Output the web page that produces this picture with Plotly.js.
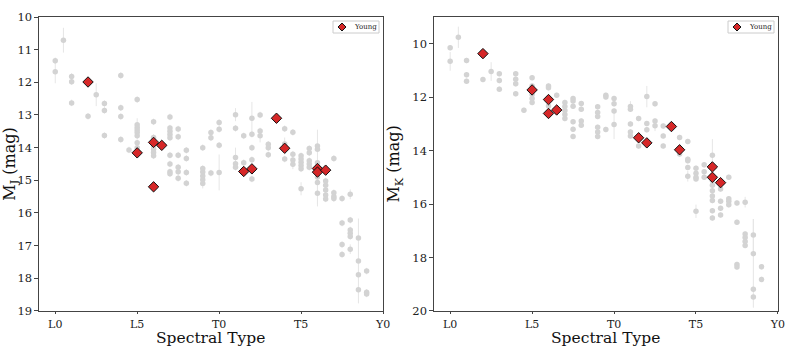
<!DOCTYPE html>
<html>
<head>
<meta charset="utf-8">
<script src="https://cdn.plot.ly/plotly-3.0.1.min.js"></script>
<style>
  html, body { margin: 0; padding: 0; background: #fff; }
  #chart { width: 793px; height: 347px; }
</style>
</head>
<body>
<div id="chart"></div>
<script>
// Spectral type as a number: L0 = 0, L5 = 5, T0 = 10, T5 = 15, Y0 = 20
const tickVals = [0, 5, 10, 15, 20];
const tickText = ['L0', 'L5', 'T0', 'T5', 'Y0'];

// Field objects, M_J
const spJ = [0, 0, 0.5, 1, 1, 1, 2, 2.5, 3, 3, 3, 4, 4, 4, 4, 4.5,
  5, 5, 5, 5, 5, 5, 5, 5, 6, 6, 6, 6, 6, 6, 6,
  7, 7, 7, 7, 7, 7, 7, 7, 7, 7.5, 7.5, 7.5, 7.5, 7.5, 7.5,
  8, 8, 8, 8, 9, 9, 9, 9, 9, 9, 9.5, 9.5, 9.5, 10, 10, 10, 10,
  11, 11, 11, 11, 11, 11.5, 11.5, 12, 12, 12, 12, 12, 12.5, 12.5, 12.5,
  13, 13, 13, 14, 14, 14, 14.5, 14.5, 14.5, 14.5,
  15, 15, 15, 15, 15, 15, 15.5, 15.5, 15.5, 15.5, 15.5,
  16, 16, 16, 16, 16, 16, 16, 16, 16.5, 16.5, 16.5, 16.5, 16.5,
  17, 17, 17, 17, 17.5, 17.5, 17.5, 17.5, 18, 18, 18, 18, 18, 18,
  18.5, 18.5, 18.5, 18.5, 19, 19, 19];
const mJ = [11.34, 11.68, 10.71, 11.82, 11.98, 12.63, 13.04, 12.38, 12.65, 12.86, 13.63, 11.79, 12.78, 13.05, 13.75, 14.07,
  12.53, 13.30, 13.38, 13.46, 13.54, 13.64, 13.85, 14.00, 13.21, 13.69, 13.85, 13.95, 14.05, 14.15, 14.25,
  13.06, 13.40, 13.50, 13.60, 13.70, 14.23, 14.50, 14.74, 14.80, 13.43, 13.67, 14.23, 14.60, 14.74, 14.94,
  14.08, 14.33, 14.76, 15.09, 14.00, 14.64, 14.75, 14.87, 14.98, 15.10, 13.54, 13.70, 14.78, 13.23, 13.44, 13.93, 14.76,
  12.99, 13.41, 14.30, 14.49, 14.60, 13.64, 14.46, 13.10, 13.59, 14.00, 14.37, 14.96, 13.00, 13.49, 13.64,
  13.90, 14.00, 14.22, 13.42, 13.89, 14.35, 13.53, 14.20, 14.38, 14.51,
  14.25, 14.35, 14.45, 14.55, 14.65, 15.26, 14.03, 14.16, 14.40, 14.50, 14.60,
  13.95, 14.05, 14.46, 14.60, 14.80, 14.90, 15.07, 15.40, 15.02, 15.15, 15.30, 15.45, 15.57,
  14.33, 15.38, 15.50, 15.56, 15.56, 16.31, 16.97, 17.27, 15.43, 16.22, 16.52, 16.62, 16.72, 17.11,
  16.77, 17.47, 17.89, 18.35, 17.78, 18.43, 18.48];
const eJ = [0.1, 0.35, 0.38, 0.1, 0.1, 0.1, 0.1, 0.35, 0.1, 0.1, 0.1, 0.1, 0.1, 0.1, 0.1, 0.1,
  0.1, 0.2, 0.1, 0.1, 0.1, 0.1, 0.1, 0.1, 0.1, 0.1, 0.1, 0.1, 0.1, 0.1, 0.1,
  0.1, 0.1, 0.1, 0.1, 0.1, 0.1, 0.1, 0.1, 0.1, 0.1, 0.1, 0.1, 0.1, 0.1, 0.1,
  0.1, 0.1, 0.1, 0.1, 0.1, 0.1, 0.1, 0.1, 0.1, 0.15, 0.1, 0.1, 0.1, 0.1, 0.1, 0.1, 0.55,
  0.2, 0.1, 0.3, 0.1, 0.1, 0.1, 0.1, 0.5, 0.1, 0.1, 0.1, 0.1, 0.1, 0.1, 0.2,
  0.1, 0.1, 0.1, 0.1, 0.2, 0.1, 0.1, 0.1, 0.1, 0.15,
  0.1, 0.1, 0.1, 0.1, 0.1, 0.2, 0.1, 0.1, 0.1, 0.1, 0.1,
  0.1, 0.1, 0.1, 1.15, 0.1, 0.1, 0.1, 0.4, 0.1, 0.1, 0.1, 0.1, 0.1,
  0.1, 0.1, 0.1, 0.1, 0.1, 0.1, 0.1, 0.1, 0.15, 0.1, 0.1, 0.1, 0.1, 0.15,
  0.1, 1.3, 0.1, 0.1, 0.1, 0.1, 0.1];

// Young objects, M_J
const spYoungJ = [2, 5, 6, 6, 6.5, 11.5, 12, 13.5, 14, 16, 16, 16.5];
const mYoungJ = [11.99, 14.16, 13.84, 15.20, 13.93, 14.73, 14.65, 13.10, 14.02, 14.64, 14.75, 14.69];

// Field objects, M_K
const spK = [0, 0, 0.5, 1, 1, 1, 2, 2.5, 3, 3, 3, 4, 4, 4, 4, 4.5,
  5, 5, 5, 5, 5, 5, 6, 6, 6, 6.5,
  7, 7, 7, 7, 7, 7.5, 7.5, 7.5, 7.5, 7.5, 7.5, 8, 8, 8, 8,
  9, 9, 9, 9, 9, 9, 9.5, 9.5, 9.5, 10, 10, 10, 10,
  11, 11, 11, 11, 11, 11.5, 11.5, 12, 12, 12, 12.5, 12.5, 12.5,
  13, 13, 13, 14, 14, 14.5, 14.5, 14.5, 14.5, 14.5,
  15, 15, 15, 15, 15, 15.5, 15.5, 15.5,
  16, 16, 16, 16, 16, 16, 16, 16, 16.5, 16.5, 16.5, 16.5,
  17, 17, 17, 17, 17.5, 17.5, 17.5, 17.5, 18, 18, 18, 18, 18,
  18.5, 18.5, 18.5, 18.5, 19, 19];
const mK = [10.15, 10.66, 9.76, 10.63, 11.16, 11.40, 11.34, 11.04, 11.12, 11.38, 11.70, 11.12, 11.33, 11.50, 11.87, 12.49,
  11.27, 11.58, 11.75, 11.90, 12.05, 12.20, 11.58, 11.65, 12.33, 11.93,
  12.20, 12.35, 12.50, 12.65, 12.80, 12.05, 12.14, 12.34, 12.92, 13.20, 13.47, 12.24, 12.45, 12.89, 13.05,
  12.36, 12.57, 12.72, 13.13, 13.30, 13.47, 11.93, 11.99, 13.21, 12.05, 12.25, 12.52, 13.02,
  12.35, 12.45, 13.00, 13.30, 13.45, 12.80, 13.83, 11.98, 12.99, 13.22, 12.25, 12.89, 13.07,
  13.08, 13.45, 13.83, 13.51, 14.13, 13.66, 14.32, 14.38, 14.63, 14.96,
  14.66, 14.85, 15.00, 15.06, 16.27, 14.53, 14.79, 15.00,
  14.17, 15.12, 15.30, 15.50, 15.70, 15.87, 16.25, 16.52, 15.44, 15.90, 16.16, 16.41,
  15.00, 15.80, 15.90, 16.03, 15.96, 16.68, 18.26, 18.36, 15.93, 17.12, 17.25, 17.40, 17.55,
  17.16, 17.86, 19.19, 19.48, 18.35, 18.82];
const eK = [0.1, 0.35, 0.4, 0.1, 0.1, 0.1, 0.1, 0.35, 0.1, 0.1, 0.1, 0.1, 0.1, 0.1, 0.1, 0.1,
  0.1, 0.1, 0.1, 0.1, 0.1, 0.1, 0.1, 0.1, 0.1, 0.1,
  0.1, 0.1, 0.1, 0.1, 0.1, 0.1, 0.1, 0.1, 0.1, 0.1, 0.1, 0.1, 0.1, 0.1, 0.1,
  0.1, 0.1, 0.1, 0.1, 0.1, 0.1, 0.1, 0.1, 0.1, 0.1, 0.1, 0.1, 0.55,
  0.2, 0.1, 0.1, 0.1, 0.1, 0.1, 0.1, 0.4, 0.1, 0.1, 0.1, 0.1, 0.2,
  0.1, 0.1, 0.1, 0.1, 0.1, 0.1, 0.1, 0.1, 0.1, 0.2,
  0.1, 0.1, 0.1, 0.1, 0.25, 0.1, 0.1, 0.1,
  0.6, 0.1, 0.1, 0.1, 0.1, 0.1, 0.1, 0.1, 0.1, 0.1, 0.1, 0.1,
  0.1, 0.1, 0.1, 0.1, 0.1, 0.1, 0.1, 0.1, 0.2, 0.1, 0.1, 0.1, 0.1,
  0.6, 1.3, 0.1, 0.4, 0.1, 0.1];

// Young objects, M_K
const spYoungK = [2, 5, 6, 6, 6.5, 11.5, 12, 13.5, 14, 16, 16, 16.5];
const mYoungK = [10.37, 11.73, 12.09, 12.61, 12.48, 13.52, 13.71, 13.10, 13.97, 14.61, 15.00, 15.20];

const W = 793, H = 347;
const serif = 'DejaVu Serif, serif';
const fieldColor = '#d3d3d3';
const youngColor = '#d62728';

function fieldTrace(x, y, err, xa, ya) {
  return {
    x: x, y: y, xaxis: xa, yaxis: ya,
    type: 'scatter', mode: 'markers', showlegend: false,
    marker: { color: fieldColor, size: 5.5, line: { width: 0 } },
    error_y: { type: 'data', array: err, visible: true, color: '#e6e6e6', thickness: 1, width: 0 }
  };
}

function youngTrace(x, y, xa, ya) {
  return {
    x: x, y: y, xaxis: xa, yaxis: ya, showlegend: false,
    type: 'scatter', mode: 'markers', name: 'Young',
    marker: { color: youngColor, symbol: 'diamond', size: 8, line: { color: '#111', width: 1 } }
  };
}

const data = [
  fieldTrace(spJ, mJ, eJ, 'x', 'y'),
  youngTrace(spYoungJ, mYoungJ, 'x', 'y'),
  fieldTrace(spK, mK, eK, 'x2', 'y2'),
  youngTrace(spYoungK, mYoungK, 'x2', 'y2')
];

function xAxis(dom, anchor) {
  return {
    domain: dom, anchor: anchor, range: [-1, 20],
    tickvals: tickVals, ticktext: tickText,
    showgrid: false, zeroline: false,
    showline: true, mirror: true, linecolor: '#444', linewidth: 1,
    ticks: 'outside', ticklen: 2.5, tickcolor: '#444',
    tickfont: { family: serif, size: 11, color: '#222' }
  };
}

function yAxis(range, dtick, anchor, label) {
  return {
    domain: [0.104, 0.951], anchor: anchor, range: range, dtick: dtick,
    showgrid: false, zeroline: false,
    showline: true, mirror: true, linecolor: '#444', linewidth: 1,
    ticks: 'outside', ticklen: 3.5, tickcolor: '#444',
    tickfont: { family: serif, size: 11.5, color: '#222' },
    title: { text: label, font: { family: serif, size: 16, color: '#111' }, standoff: 8 }
  };
}

const px = v => v / W, py = v => (H - v) / H;

const shapes = [];
const annotations = [];

// x titles, set just under the tick labels as in the reference
[0.266, 0.764].forEach(cx => {
  annotations.push({
    xref: 'paper', yref: 'paper', x: cx, y: py(337.5),
    xanchor: 'center', yanchor: 'middle', showarrow: false,
    text: 'Spectral Type', font: { family: serif, size: 15.5, color: '#111' }
  });
});

// small matplotlib-style legend box inside each panel
function legendAt(left) {
  shapes.push({
    type: 'rect', xref: 'paper', yref: 'paper', layer: 'above',
    x0: px(left), x1: px(left + 46), y0: py(33), y1: py(21),
    line: { color: '#cccccc', width: 1 }, fillcolor: '#ffffff'
  });
  const cx = left + 9, cy = 27, r = 4;
  shapes.push({
    type: 'path', xref: 'paper', yref: 'paper', layer: 'above',
    path: `M ${px(cx - r)},${py(cy)} L ${px(cx)},${py(cy - r)} L ${px(cx + r)},${py(cy)} L ${px(cx)},${py(cy + r)} Z`,
    line: { color: '#111', width: 1 }, fillcolor: youngColor
  });
  annotations.push({
    xref: 'paper', yref: 'paper', x: px(left + 19), y: py(27),
    xanchor: 'left', yanchor: 'middle', showarrow: false,
    text: 'Young', font: { family: serif, size: 7, color: '#222' }
  });
}
legendAt(333);
legendAt(728);

const layout = {
  width: W, height: H,
  margin: { l: 0, r: 0, t: 0, b: 0 },
  paper_bgcolor: '#fff', plot_bgcolor: '#fff',
  showlegend: false,
  xaxis: xAxis([0.049, 0.483], 'y'),
  yaxis: yAxis([19, 10], 1, 'x', 'M<sub>J</sub> (mag)'),
  xaxis2: xAxis([0.547, 0.981], 'y2'),
  yaxis2: yAxis([20, 9], 2, 'x2', 'M<sub>K</sub> (mag)'),
  shapes: shapes,
  annotations: annotations
};

Plotly.newPlot('chart', data, layout, { displayModeBar: false, staticPlot: true });
</script>
</body>
</html>
